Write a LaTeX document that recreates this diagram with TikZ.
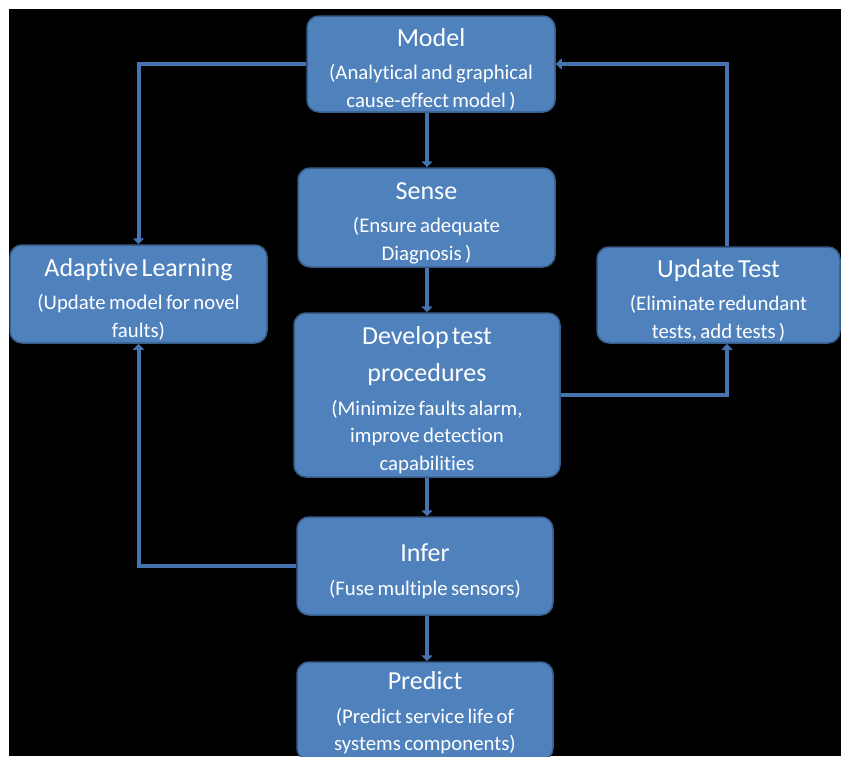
\documentclass[tikz,border=0pt]{standalone}
\usepackage{fontspec}
\setmainfont{Carlito}[Ligatures=NoCommon]
\usetikzlibrary{arrows.meta}
\definecolor{boxfill}{HTML}{4F81BD}
\definecolor{boxline}{HTML}{385D8A}
\definecolor{linkblue}{HTML}{4674B0}
% heading and description lines inside a stage box
\newcommand{\stagehead}[2][28pt]{{\fontsize{26}{37}\selectfont\rule{0pt}{#1}#2\par}\vspace{6pt}}
\newcommand{\stagedesc}[1]{{\fontsize{20.8}{27.5}\selectfont #1\par}}
\begin{document}
\begin{tikzpicture}[x=1pt,y=-1pt,
  stage/.style={draw=boxline, line width=1.5pt, fill=boxfill,
    rounded corners=12pt, text=white, align=center, inner sep=0pt},
  link/.style={draw=linkblue, line width=4pt},
  flow/.style={link, -{Triangle[width=11pt,length=6pt]}}]

% page frame: thin white margin on top and left, black field
\useasboundingbox (0,0) rectangle (841,756);
\clip (0,0) rectangle (841,756);
\fill[white] (0,0) rectangle (841,756);
\fill[black] (9,9) rectangle (841,756);

% stages
\node[stage, minimum width=248pt, minimum height=96pt, text width=244pt] (model) at (431,64)
  {\stagehead{Model}\stagedesc{(Analytical and graphical\\cause-effect model )}};
\node[stage, minimum width=257pt, minimum height=99pt, text width=250pt] (sense) at (426.5,217.5)
  {\stagehead{Sense}\stagedesc{(Ensure adequate\\Diagnosis )}};
\node[stage, minimum width=266pt, minimum height=164pt, text width=258pt] (dev) at (427,395)
  {\stagehead{Develop test\\procedures}\stagedesc{(Minimize faults alarm,\\improve detection\\capabilities}};
\node[stage, minimum width=256pt, minimum height=98pt, text width=250pt] (infer) at (425,566)
  {\stagehead{Infer}\stagedesc{(Fuse multiple sensors)}};
\node[stage, minimum width=256pt, minimum height=98pt, text width=250pt] (predict) at (425,711)
  {\stagehead[22pt]{Predict}\stagedesc{(Predict service life of\\systems components)}};
\node[stage, minimum width=257pt, minimum height=98pt, text width=250pt] (learn) at (138.5,294)
  {\stagehead{Adaptive Learning}\stagedesc{(Update model for novel\\faults)}};
\node[stage, minimum width=243pt, minimum height=96pt, text width=238pt] (update) at (718.5,295)
  {\stagehead{Update Test}\stagedesc{(Eliminate redundant\\tests, add tests )}};

% rails for the connectors
\coordinate (midx) at (427,0);
\coordinate (rightx) at (727,0);

% main chain
\draw[flow] (model.south -| midx) -- (sense.north -| midx);
\draw[flow] (sense.south -| midx) -- (dev.north -| midx);
\draw[flow] (dev.south -| midx) -- (infer.north -| midx);
\draw[flow] (infer.south -| midx) -- (predict.north -| midx);

% feedback loops
\draw[flow] (model.west) -| (learn.north);
\draw[flow] (infer.west) -| (learn.south);
\draw[flow] (dev.east) -| (update.south -| rightx);
\draw[flow] (update.north -| rightx) |- (model.east);
\end{tikzpicture}
\end{document}
